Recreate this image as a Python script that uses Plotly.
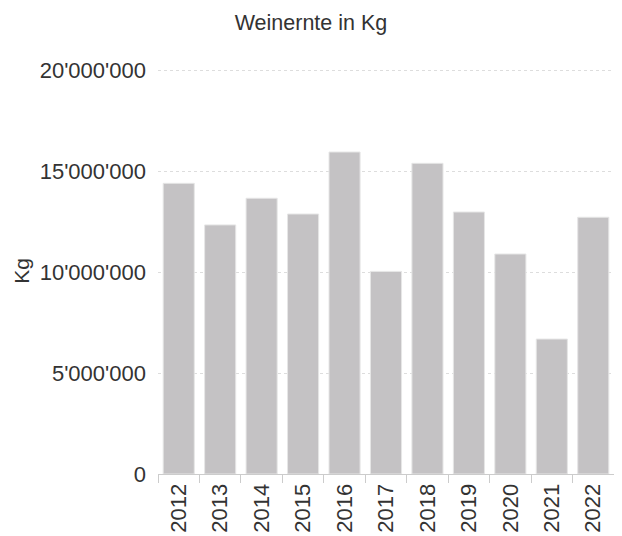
import plotly.graph_objects as go

years = ["2012", "2013", "2014", "2015", "2016", "2017", "2018", "2019", "2020", "2021", "2022"]
harvest_kg = [14390000, 12330000, 13650000, 12870000, 15940000, 10030000, 15380000, 12970000, 10890000, 6680000, 12710000]
y_ticks = [0, 5000000, 10000000, 15000000, 20000000]

fig = go.Figure(go.Bar(
    x=years, y=harvest_kg,
    marker=dict(color="#c4c2c4", line=dict(color="#e6e6e6", width=1)),
    cliponaxis=False,
))

font = "Liberation Sans, Arial, sans-serif"
W, H = 614, 528  # page body has an 8px default margin
top, bottom = 60, 62
plot_h = H - top - bottom
y_max = 20000000 * plot_h / (plot_h - 2)  # small headroom so the 20M gridline is drawn
fig.update_layout(
    width=W, height=H,
    margin=dict(l=150, r=8, t=top, b=bottom, autoexpand=False),
    paper_bgcolor="white", plot_bgcolor="white",
    separators=".'",
    bargap=0.25,
    showlegend=False,
    font=dict(family=font, color="#333333", size=22),
    title=dict(text="Weinernte in Kg", x=303 / W, xanchor="center", y=1 - 14 / H, yanchor="middle",
               font=dict(size=21.5, color="#333333")),
)
fig.update_xaxes(
    type="category", showgrid=False, showline=True, linecolor="#cccccc", linewidth=1,
    ticks="outside", tickson="boundaries", ticklen=8, tickcolor="#cccccc",
    tickangle=-90, tickfont=dict(size=22, color="#333333"), automargin=False,
)
fig.update_yaxes(
    range=[0, y_max], tickvals=y_ticks, tickformat=",d",
    showgrid=True, gridcolor="#dddddd", griddash="dot", gridwidth=1,
    zeroline=False, showline=False, ticks="", ticklabelstandoff=11,
    tickfont=dict(size=22, color="#333333"), automargin=False,
    title=dict(text="Kg", font=dict(size=21, color="#333333"), standoff=4),
)
fig.write_html("out.html")
